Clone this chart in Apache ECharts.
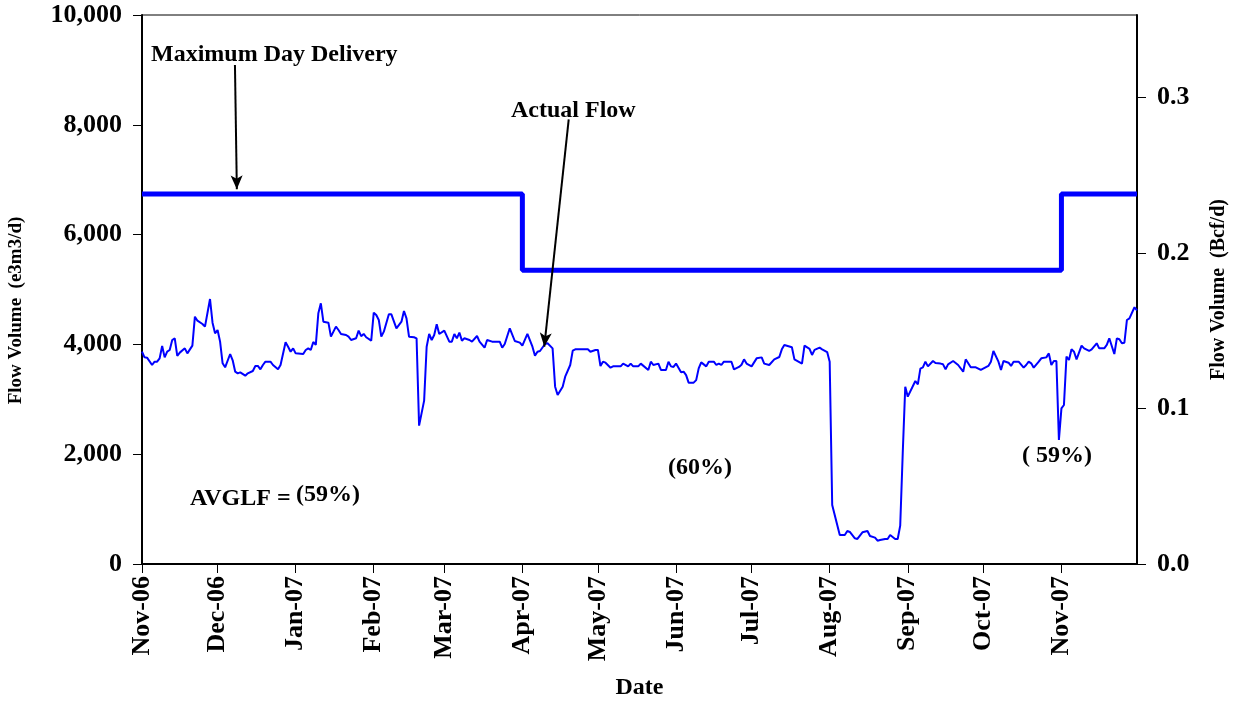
<!DOCTYPE html>
<html lang="en">
<head>
  <meta charset="UTF-8">
  <title>Flow Volume</title>
  <script src="https://cdn.jsdelivr.net/npm/echarts@6/dist/echarts.min.js"></script>
  <style>
    html, body { margin: 0; padding: 0; background: #fff; }
    #echarts { width: 1238px; height: 702px; }
  </style>
</head>
<body>
  <div id="echarts"></div>
<script>
  // days counted from 1 Nov 2006
  const flowDays = [0,1,2,4,5,6,7,8,9,10,11,12,13,14,15,17,18,20,21,22,24,25,27,28,29,30,31,32,33,35,36,37,38,39,41,42,44,45,46,47,48,49,51,52,54,55,57,58,59,60,61,64,65,66,67,68,69,70,71,72,74,75,77,78,79,81,82,83,85,86,87,88,89,91,92,93,94,95,96,98,99,101,103,104,105,106,108,109,110,112,113,114,115,116,117,118,120,122,123,124,125,126,127,128,130,131,133,134,136,137,139,142,143,144,146,148,150,151,153,155,156,157,158,160,161,163,164,165,167,168,170,171,172,177,178,180,181,182,183,184,186,187,190,191,193,194,195,197,198,201,202,203,205,206,208,209,210,211,212,214,215,216,217,219,220,221,222,224,225,227,228,229,230,231,234,235,237,238,239,240,242,244,246,247,249,251,253,254,255,258,259,262,263,265,266,267,269,270,272,273,274,276,277,279,280,281,283,284,286,288,289,291,292,293,295,296,297,299,300,301,302,303,304,307,308,309,310,311,312,314,315,317,318,319,320,322,324,326,327,329,331,333,336,337,338,340,341,342,344,345,346,348,350,351,352,353,354,356,357,359,360,361,362,363,364,365,366,367,368,369,370,371,373,374,376,377,379,380,382,383,384,386,387,388,389,390,391,392,394,395];
  const flowValues = [3867,3764,3758,3625,3685,3685,3746,3970,3764,3867,3898,4080,4111,3789,3850,3928,3837,3977,4505,4432,4372,4323,4827,4396,4202,4262,4050,3656,3583,3825,3710,3503,3473,3491,3430,3473,3515,3607,3607,3546,3625,3685,3685,3625,3546,3625,4038,3958,3867,3928,3837,3825,3898,3928,3898,4044,3990,4566,4748,4414,4396,4141,4323,4262,4190,4172,4141,4080,4111,4250,4150,4190,4130,4070,4578,4535,4445,4141,4232,4548,4548,4293,4414,4608,4475,4141,4130,4111,2520,2975,3958,4190,4080,4172,4366,4190,4250,4050,4050,4190,4111,4214,4068,4111,4080,4050,4153,4050,3940,4080,4050,4050,3940,4008,4293,4062,4032,3977,4190,3958,3795,3867,3880,4008,4020,3928,3230,3078,3230,3412,3625,3886,3910,3910,3867,3898,3898,3607,3685,3667,3576,3600,3600,3650,3600,3650,3600,3600,3650,3534,3685,3625,3650,3534,3534,3685,3600,3590,3650,3491,3503,3440,3303,3303,3350,3564,3673,3600,3685,3685,3625,3650,3625,3685,3685,3546,3590,3630,3728,3650,3600,3746,3764,3650,3625,3728,3770,3910,3989,3947,3728,3650,3977,3920,3807,3900,3940,3910,3860,3685,1075,710,528,528,601,583,468,456,577,601,510,480,425,437,456,456,528,456,456,698,2016,3230,3048,3333,3272,3560,3582,3685,3600,3698,3660,3650,3637,3546,3637,3698,3625,3503,3728,3583,3583,3534,3607,3685,3880,3685,3534,3698,3667,3607,3685,3685,3576,3625,3685,3655,3576,3685,3746,3764,3837,3625,3698,3698,2259,2835,2896,3777,3716,3910,3867,3728,3977,3928,3880,3910,4020,3928,3928,3990,4111,3825,4111,4093,4020,4030,4445,4475,4676,4620];

  // Maximum Day Delivery (step line)
  const mddDays = [0, 151, 151, 365, 365, 395];
  const mddValues = [6740, 6740, 5350, 5350, 6740, 6740];

  const tickLabels = ['Nov-06','Dec-06','Jan-07','Feb-07','Mar-07','Apr-07','May-07','Jun-07','Jul-07','Aug-07','Sep-07','Oct-07','Nov-07'];
  const rightTicks = [0, 0.1, 0.2, 0.3];

  const DAY = 86400000;
  const T0 = Date.UTC(2006, 10, 1);
  const MONTHS = ['Jan','Feb','Mar','Apr','May','Jun','Jul','Aug','Sep','Oct','Nov','Dec'];
  const E3M3_PER_BCF = 28317;

  function dayToTime(d) { return T0 + d * DAY; }
  function labelToTime(s) {
    const parts = s.split('-');
    return Date.UTC(2000 + Number(parts[1]), MONTHS.indexOf(parts[0]), 1);
  }
  function fmtMonth(v) {
    const d = new Date(v);
    return MONTHS[d.getUTCMonth()] + '-' + String(d.getUTCFullYear()).slice(2);
  }

  const monthTimes = tickLabels.map(labelToTime);
  const flowData = flowDays.map((d, i) => [dayToTime(d), flowValues[i]]);
  const mddData = mddDays.map((d, i) => [dayToTime(d), mddValues[i]]);

  const FONT = '"Liberation Serif", "Times New Roman", serif';
  const chart = echarts.init(document.getElementById('echarts'));

  function txt(text, x, y) {
    return {
      type: 'text', x: x, y: y, silent: true,
      style: { text: text, fill: '#000', font: 'bold 24px ' + FONT, textAlign: 'left', textVerticalAlign: 'middle' }
    };
  }

  chart.setOption({
    animation: false,
    backgroundColor: '#fff',
    grid: {
      left: 142, right: 101, top: 15, bottom: 138,
      containLabel: false, outerBoundsMode: 'none',
      show: true, borderColor: '#000', borderWidth: 1
    },
    xAxis: {
      type: 'value',
      min: dayToTime(0),
      max: dayToTime(395),
      name: 'Date',
      nameLocation: 'middle',
      nameGap: 112,
      nameTextStyle: { fontFamily: FONT, fontWeight: 'bold', fontSize: 24, color: '#000' },
      axisLine: { lineStyle: { color: '#000', width: 2 } },
      axisTick: { show: true, inside: false, length: 9, customValues: monthTimes, lineStyle: { color: '#000', width: 1 } },
      axisLabel: {
        customValues: monthTimes,
        rotate: 90, margin: 12,
        formatter: fmtMonth,
        fontFamily: FONT, fontWeight: 'bold', fontSize: 26, color: '#000'
      },
      splitLine: { show: false }
    },
    yAxis: [{
      type: 'value',
      min: 0, max: 10000, interval: 2000,
      name: 'Flow Volume  (e3m3/d)',
      nameLocation: 'middle',
      nameGap: 116,
      nameRotate: 90,
      nameTextStyle: { fontFamily: FONT, fontWeight: 'bold', fontSize: 19, color: '#000', padding: [0, 42, 0, 0] },
      axisLine: { show: true, lineStyle: { color: '#000', width: 2 } },
      axisTick: { show: true, length: 9, lineStyle: { color: '#000' } },
      axisLabel: {
        margin: 20,
        formatter: v => v.toLocaleString('en-US'),
        fontFamily: FONT, fontWeight: 'bold', fontSize: 26, color: '#000'
      },
      splitLine: { show: false }
    }, {
      type: 'value',
      position: 'right',
      min: 0, max: 10000 / E3M3_PER_BCF,
      name: 'Flow Volume  (Bcf/d)',
      nameLocation: 'middle',
      nameGap: 72,
      nameRotate: 90,
      nameTextStyle: { fontFamily: FONT, fontWeight: 'bold', fontSize: 20, color: '#000' },
      axisLine: { show: true, lineStyle: { color: '#000', width: 2 } },
      axisTick: { show: true, length: 9, customValues: rightTicks, lineStyle: { color: '#000' } },
      axisLabel: {
        customValues: rightTicks,
        margin: 20,
        formatter: v => v.toFixed(1),
        fontFamily: FONT, fontWeight: 'bold', fontSize: 26, color: '#000'
      },
      splitLine: { show: false }
    }],
    series: [{
      name: 'Maximum Day Delivery',
      type: 'line',
      data: mddData,
      showSymbol: false,
      lineStyle: { color: '#0000ff', width: 5 },
      z: 3
    }, {
      name: 'Actual Flow',
      type: 'line',
      data: flowData,
      showSymbol: false,
      lineStyle: { color: '#0000ff', width: 2 },
      z: 2,
      markLine: {
        silent: true,
        symbol: ['none', 'arrow'],
        symbolSize: [9, 14],
        label: { show: false },
        lineStyle: { color: '#000', width: 2, type: 'solid' },
        data: [
          [{ coord: [dayToTime(36.9), 9089] }, { coord: [dayToTime(37.65), 6825] }],
          [{ coord: [dayToTime(169.4), 8100] }, { coord: [dayToTime(159.7), 3958] }]
        ]
      }
    }],
    graphic: [
      txt('Maximum Day Delivery', 151, 55),
      txt('Actual Flow', 511, 111),
      txt('AVGLF =', 190, 499),
      txt('(59%)', 296, 495),
      txt('(60%)', 668, 468),
      txt('( 59%)', 1022, 456)
    ]
  });
</script>
</body>
</html>
